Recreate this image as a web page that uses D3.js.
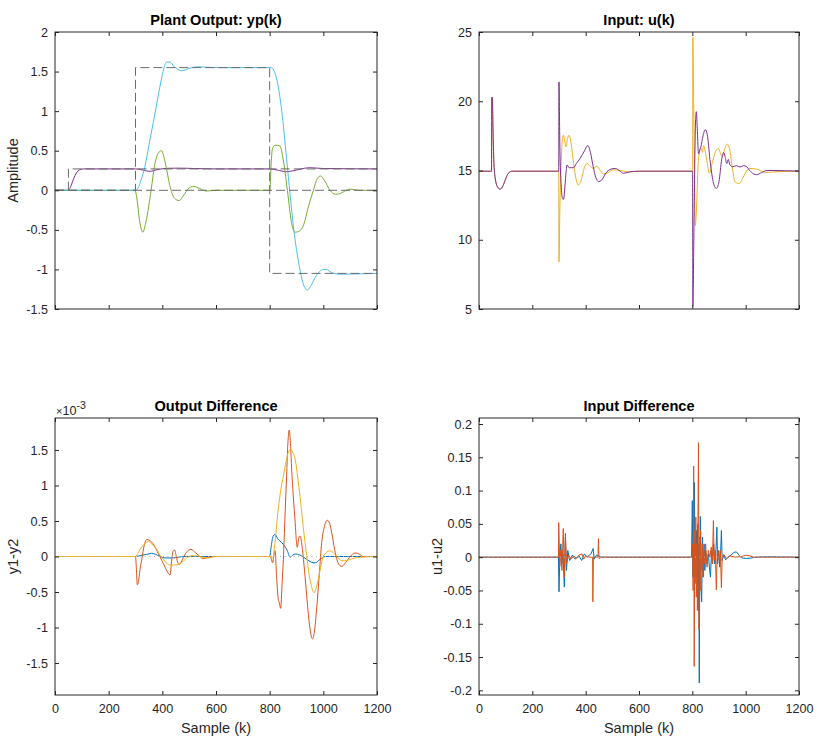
<!DOCTYPE html>
<html>
<head>
<meta charset="utf-8">
<script src="https://cdn.jsdelivr.net/npm/d3@7"></script>
<style>
body { margin: 0; background: #fff; }
svg { font-family: "Liberation Sans", Arial, Helvetica, sans-serif; }
.tick text { fill: #262626; font-size: 12.6px; }
.tick line { stroke: #262626; }
.domain { display: none; }
</style>
</head>
<body>
<svg id="fig" width="834" height="754"></svg>
<script>
// ---- data: [sample, value] ----
const xTicks = [0, 200, 400, 600, 800, 1000, 1200];

// Plant output
const refA = [[0, 0], [50, 0.27], [1200, 0.27]];
const refB = [[0, 0], [300, 1.55], [800, -1.05], [1200, -1.05]];
const refC = [[0, 0], [1200, 0]];
const yp1 = [[0,0],[50,0],[55,0.02],[60,0.06],[70,0.15],[80,0.22],[90,0.255],[105,0.27],[300,0.27],[320,0.262],[340,0.245],[355,0.24],[380,0.26],[420,0.278],[460,0.28],[520,0.275],[600,0.27],[800,0.27],[830,0.255],[860,0.235],[885,0.245],[910,0.265],[950,0.285],[1000,0.275],[1200,0.27]];
const yp2 = [[0,0],[300,0],[310,0.03],[320,0.12],[335,0.3],[355,0.66],[376,1.03],[395,1.38],[405,1.53],[416,1.62],[428,1.62],[445,1.56],[472,1.51],[500,1.54],[530,1.56],[600,1.55],[805,1.55],[815,1.52],[828,1.38],[845,1.0],[863,0.4],[876,-0.05],[890,-0.5],[910,-0.95],[925,-1.18],[940,-1.26],[955,-1.2],[970,-1.1],[985,-1.03],[1000,-1.0],[1012,-1.0],[1030,-1.04],[1060,-1.06],[1200,-1.05]];
const yp3 = [[0,0],[298,0],[305,-0.1],[315,-0.38],[327,-0.53],[340,-0.38],[358,0.0],[372,0.33],[385,0.47],[397,0.5],[412,0.33],[428,0.06],[445,-0.1],[463,-0.13],[480,-0.06],[500,0.03],[516,0.05],[540,0.02],[565,-0.01],[600,0],[801,0],[805,0.3],[810,0.52],[820,0.57],[838,0.56],[850,0.4],[866,0],[882,-0.42],[895,-0.53],[908,-0.52],[925,-0.45],[945,-0.2],[963,0],[978,0.15],[990,0.18],[1005,0.12],[1025,0],[1045,-0.05],[1060,-0.045],[1080,-0.01],[1100,0.015],[1130,0],[1200,0]];
const ypTicks = [-1.5, -1, -0.5, 0, 0.5, 1, 1.5, 2];

// Input
const u2 = [[0,14.95],[47,14.95],[48,20.3],[50,20.2],[53,17.5],[56,15.5],[62,14.3],[70,13.8],[79,13.65],[90,13.9],[100,14.4],[110,14.8],[125,14.95],[299,14.95],[300,8.4],[303,12],[308,15.5],[313,17.3],[317,17.55],[321,17.2],[326,16.7],[332,17.3],[338,17.55],[345,17.0],[355,15.5],[365,14.3],[373,13.95],[383,14.3],[395,15.2],[405,15.5],[418,15.3],[429,15.15],[442,15.3],[455,15.0],[467,14.75],[485,14.85],[504,15.05],[530,15.0],[560,14.9],[600,14.95],[801,14.95],[802,24.6],[805,20],[808,15],[811,11.0],[815,12.0],[822,15.5],[829,16.5],[834,16.6],[838,16.3],[842,16.8],[848,16.4],[856,15.5],[864,14.8],[874,15.5],[886,16.3],[898,16.6],[906,16.2],[913,16.0],[922,16.6],[931,16.9],[940,16.5],[950,15.2],[960,14.2],[976,14.05],[990,14.5],[1005,15.0],[1016,15.15],[1041,15.1],[1060,14.95],[1079,14.85],[1100,14.9],[1200,14.95]];
const u1 = [[0,14.95],[47,14.95],[48,20.3],[50,20.2],[53,17.5],[56,15.5],[62,14.3],[70,13.8],[79,13.65],[90,13.9],[100,14.4],[110,14.8],[125,14.95],[299,14.95],[300,21.4],[303,17],[308,14.0],[313,13.0],[317,12.92],[322,13.8],[327,15.0],[330,15.4],[338,15.2],[346,15.2],[354,15.2],[365,15.5],[380,15.9],[395,16.4],[408,16.8],[418,16.3],[428,15.3],[438,14.5],[448,14.2],[460,14.3],[475,14.8],[495,15.1],[511,15.15],[526,15.0],[542,14.8],[565,14.9],[600,14.95],[801,14.95],[802,5.2],[805,9],[808,14],[812,18.5],[815,19.25],[819,17.8],[823,16.2],[828,16.5],[832,16.7],[840,17.5],[848,17.95],[856,17.6],[866,15.8],[878,14.2],[890,13.7],[900,14.2],[910,15.8],[917,16.3],[923,16.0],[929,15.5],[935,15.8],[941,15.4],[952,15.27],[965,15.35],[979,15.25],[992,15.35],[1002,15.3],[1015,15.0],[1030,14.75],[1041,14.7],[1060,14.85],[1080,15.0],[1100,15.0],[1200,14.95]];
const uTicks = [5, 10, 15, 20, 25];

// Output difference (x 1e-3)
const dy1 = [[0,0],[300,0],[310,0.005],[325,0.02],[342,0.03],[360,0.045],[375,0.03],[391,0],[410,-0.02],[441,-0.02],[460,-0.01],[480,0],[800,0],[806,0.15],[813,0.29],[820,0.31],[830,0.25],[838,0.22],[851,0.17],[866,0.08],[876,-0.01],[886,0.02],[895,0.035],[913,0.02],[938,-0.04],[955,-0.08],[969,-0.09],[988,-0.04],[1006,0],[1200,0]];
const dy2 = [[0,0],[300,0],[303,-0.15],[307,-0.4],[312,-0.33],[318,-0.15],[323,-0.05],[332,0.15],[342,0.24],[355,0.22],[366,0.18],[380,0.08],[391,0],[410,-0.15],[423,-0.24],[429,-0.26],[435,-0.05],[441,0.08],[446,0.09],[452,0],[459,-0.1],[465,-0.11],[475,-0.04],[490,0.06],[507,0.1],[525,0.05],[540,0],[552,-0.03],[565,-0.02],[590,0],[800,0],[806,-0.03],[811,-0.09],[816,0.02],[820,0.08],[826,-0.3],[832,-0.6],[836,-0.65],[841,-0.73],[846,-0.4],[851,-0.04],[857,0.55],[863,1.13],[868,1.6],[873,1.78],[878,1.55],[882,1.23],[888,0.85],[895,0.48],[900,0.2],[903,0.13],[908,0.25],[913,0.29],[918,0.22],[922,0.1],[930,-0.2],[938,-0.55],[948,-0.95],[959,-1.16],[967,-1.05],[975,-0.74],[985,-0.25],[994,0.2],[1004,0.42],[1015,0.51],[1023,0.47],[1031,0.34],[1042,0.1],[1052,-0.06],[1062,-0.13],[1069,-0.14],[1078,-0.11],[1088,-0.06],[1105,0.02],[1122,0.05],[1135,0.03],[1149,0],[1200,0]];
const dy3 = [[0,0],[300,0],[308,0.04],[317,0.1],[332,0.17],[348,0.21],[362,0.17],[379,0.1],[391,0.02],[404,-0.04],[415,-0.09],[429,-0.12],[445,-0.12],[466,-0.1],[480,-0.06],[491,-0.02],[510,0.01],[528,0.01],[550,-0.01],[570,-0.02],[600,0],[800,0],[811,-0.02],[820,0.2],[832,0.67],[842,0.95],[851,1.13],[862,1.35],[870,1.47],[878,1.51],[886,1.47],[895,1.37],[905,1.1],[913,0.85],[925,0.42],[938,0.01],[948,-0.28],[956,-0.42],[965,-0.51],[973,-0.45],[981,-0.32],[990,-0.15],[999,-0.01],[1012,0.06],[1024,0.08],[1035,0.06],[1043,0.03],[1055,-0.02],[1069,-0.06],[1085,-0.06],[1100,-0.04],[1120,-0.02],[1137,-0.01],[1200,0]];
const dyTicks = [-1.5, -1, -0.5, 0, 0.5, 1, 1.5];

// Input difference
const du1 = [[0,0],[298,0],[300,-0.052],[303,0],[307,0.02],[311,-0.01],[315,0.005],[320,-0.045],[324,0.03],[328,-0.02],[333,0.01],[340,-0.005],[350,0.003],[360,-0.003],[375,0.002],[385,-0.005],[395,0.005],[405,0],[420,0.005],[428,0.013],[432,-0.003],[440,0.003],[460,0],[797,0],[800,0.085],[802,-0.03],[804,0.02],[806,-0.01],[808,0.112],[810,-0.04],[812,0.03],[814,-0.02],[816,0.04],[818,-0.05],[820,0.05],[822,-0.08],[824,0.02],[826,-0.189],[828,0],[830,0.061],[832,-0.04],[835,-0.067],[838,0.03],[841,-0.03],[844,0.02],[847,-0.02],[850,0.01],[855,-0.01],[860,0.005],[865,-0.02],[868,-0.03],[872,0.01],[876,-0.01],[880,0.02],[884,-0.01],[888,0.005],[892,0.045],[895,-0.01],[899,0.01],[903,-0.015],[906,0.005],[909,0.04],[912,-0.005],[918,0.003],[925,-0.004],[935,0],[945,0.003],[955,0.007],[965,0.008],[975,0.003],[985,-0.001],[1000,-0.002],[1016,-0.0015],[1040,0],[1080,0.0005],[1200,0]];
const du2 = [[0,0],[298,0],[299,0.052],[303,-0.014],[307,0.01],[311,-0.02],[316,0.043],[320,-0.03],[324,0.036],[328,-0.01],[336,0.003],[345,-0.003],[355,0.002],[365,-0.002],[375,0.003],[386,0.005],[392,-0.003],[400,0.002],[415,0],[426,0],[427,-0.067],[429,0],[446,0],[448,0.028],[450,-0.002],[460,0],[798,0],[801,0.02],[803,-0.05],[805,0.137],[807,-0.164],[809,0.04],[811,-0.03],[813,0.06],[815,-0.06],[817,0.02],[819,-0.08],[821,0.05],[823,0.172],[825,-0.109],[827,0.03],[829,-0.05],[831,0.04],[834,-0.02],[837,0.02],[840,-0.03],[843,0.01],[846,-0.01],[850,0.02],[855,-0.015],[860,0.01],[866,0],[871,0.015],[875,-0.01],[879,0.055],[882,-0.005],[886,0.01],[890,-0.049],[893,0.005],[897,0.01],[901,-0.005],[905,0.01],[909,-0.046],[912,0],[918,0.004],[928,-0.002],[940,0.002],[960,0],[985,0.001],[1000,0.003],[1016,0.002],[1030,0],[1200,0]];
const duTicks = [-0.2, -0.15, -0.1, -0.05, 0, 0.05, 0.1, 0.15, 0.2];

// MATLAB default colours
const cBlue = '#0072BD', cOrange = '#D95319', cYellow = '#EDB120',
      cPurple = '#7E2F8E', cGreen = '#77AC30', cCyan = '#4DBEEE';

const svg = d3.select('#fig');
svg.append('rect').attr('width', 834).attr('height', 754).attr('fill', '#fff');

const fmt = d => String(+d.toFixed(3));
let clipId = 0;

function panel(p) {
  const g = svg.append('g').attr('transform', `translate(${p.left},${p.top})`);
  const x = d3.scaleLinear().domain([0, 1200]).range([0, p.w]);
  const y = d3.scaleLinear().domain(p.yDomain).range([p.h, 0]);

  const id = 'clip' + (clipId++);
  g.append('clipPath').attr('id', id)
    .append('rect').attr('width', p.w).attr('height', p.h);
  const marks = g.append('g').attr('clip-path', `url(#${id})`);

  p.series.forEach(s => {
    const line = d3.line()
      .x(d => x(d[0]))
      .y(d => y(d[1]))
      .curve(s.curve || d3.curveMonotoneX);
    marks.append('path')
      .datum(s.data)
      .attr('fill', 'none')
      .attr('stroke', s.color)
      .attr('stroke-width', s.width || 1)
      .attr('stroke-dasharray', s.dash || null)
      .attr('d', line);
  });

  const tl = 4;
  g.append('g')
    .call(d3.axisLeft(y).tickValues(p.yTicks).tickFormat(fmt).tickSize(-tl).tickPadding(7));
  g.append('g').attr('transform', `translate(${p.w},0)`)
    .call(d3.axisRight(y).tickValues(p.yTicks).tickFormat('').tickSize(-tl));
  g.append('g').attr('transform', `translate(0,${p.h})`)
    .call(d3.axisBottom(x).tickValues(xTicks).tickFormat(p.xLabels ? fmt : '').tickSize(-tl).tickPadding(9));
  g.append('g')
    .call(d3.axisTop(x).tickValues(xTicks).tickFormat('').tickSize(-tl));

  g.append('rect')
    .attr('width', p.w).attr('height', p.h)
    .attr('fill', 'none').attr('stroke', '#262626').attr('stroke-width', 1);

  g.append('text')
    .attr('x', p.w / 2).attr('y', -7.5)
    .attr('text-anchor', 'middle')
    .attr('font-weight', 'bold').attr('font-size', '14.6px').attr('fill', '#000')
    .text(p.title);

  if (p.yLabel) {
    g.append('text')
      .attr('transform', `translate(-37,${p.h / 2}) rotate(-90)`)
      .attr('text-anchor', 'middle')
      .attr('font-size', '14.5px').attr('fill', '#262626')
      .text(p.yLabel);
  }
  if (p.xLabels) {
    g.append('text')
      .attr('x', p.w / 2).attr('y', p.h + 38)
      .attr('text-anchor', 'middle')
      .attr('font-size', '14.5px').attr('fill', '#262626')
      .text('Sample (k)');
  }
  if (p.exponent) {
    const t = g.append('text').attr('x', 1).attr('y', -3)
      .attr('font-size', '12.6px').attr('fill', '#262626');
    t.append('tspan').attr('font-size', '11px').text('\u00d7');
    t.append('tspan').text('10');
    t.append('tspan').attr('dy', -6).attr('font-size', '10.5px').text(p.exponent);
  }
}

const dashRef = { color: '#6b6b6b', dash: '9,4', curve: d3.curveStepAfter };
const zeroDots = { data: refC, color: '#b4b4b4', dash: '1,3.5', curve: d3.curveLinear };

panel({
  left: 55, top: 32, w: 322, h: 277,
  yDomain: [-1.5, 2], yTicks: ypTicks,
  title: 'Plant Output: yp(k)', yLabel: 'Amplitude',
  series: [
    { data: yp1, color: cPurple },
    { data: yp3, color: cGreen },
    { data: yp2, color: cCyan },
    Object.assign({ data: refC }, dashRef),
    Object.assign({ data: refA }, dashRef),
    Object.assign({ data: refB }, dashRef)
  ]
});

panel({
  left: 479, top: 32, w: 320, h: 277,
  yDomain: [5, 25], yTicks: uTicks,
  title: 'Input: u(k)',
  series: [
    { data: u2, color: cYellow },
    { data: u1, color: cPurple }
  ]
});

panel({
  left: 55, top: 418, w: 322, h: 277,
  yDomain: [-1.95, 1.95], yTicks: dyTicks,
  title: 'Output Difference', yLabel: 'y1-y2', xLabels: true, exponent: '-3',
  series: [
    { data: dy1, color: cBlue },
    { data: dy2, color: cOrange },
    { data: dy3, color: cYellow },
    zeroDots
  ]
});

panel({
  left: 479, top: 418, w: 320, h: 277,
  yDomain: [-0.207, 0.209], yTicks: duTicks,
  title: 'Input Difference', yLabel: 'u1-u2', xLabels: true,
  series: [
    { data: du1, color: cBlue, curve: d3.curveLinear },
    { data: du2, color: cOrange, curve: d3.curveLinear },
    zeroDots
  ]
});
</script>
</body>
</html>
